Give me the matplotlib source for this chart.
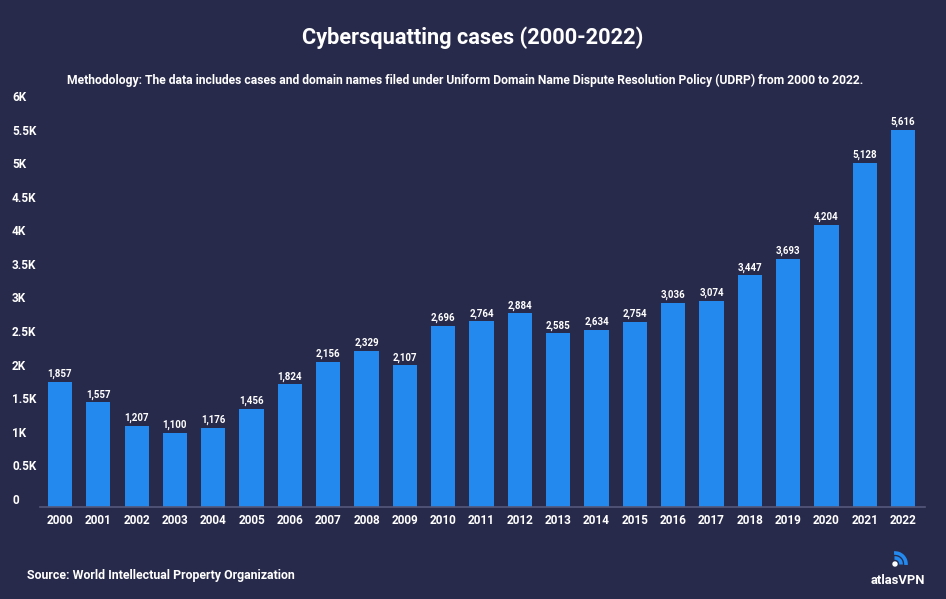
import matplotlib
matplotlib.use("Agg")

import numpy as np
import matplotlib.pyplot as plt
import matplotlib.transforms as mtransforms
from matplotlib.patches import Arc, Circle

years = [str(y) for y in range(2000, 2023)]
cases = [1857, 1557, 1207, 1100, 1176, 1456, 1824, 2156, 2329, 2107, 2696, 2764,
         2884, 2585, 2634, 2754, 3036, 3074, 3447, 3693, 4204, 5128, 5616]
ytick_vals = [0, 500, 1000, 1500, 2000, 2500, 3000, 3500, 4000, 4500, 5000, 5500, 6000]
ytick_labels = ["0", "0.5K", "1K", "1.5K", "2K", "2.5K", "3K", "3.5K", "4K", "4.5K", "5K", "5.5K", "6K"]

BG = "#282a4b"
BAR = "#2389ee"
W, H = 946, 599

plt.rcParams["font.family"] = ["Roboto", "DejaVu Sans"]

fig = plt.figure(figsize=(W / 100, H / 100), dpi=100, facecolor=BG)
ax = fig.add_axes([40 / W, 92 / H, 885 / W, 403 / H], facecolor=BG)

x = np.arange(len(years))
ax.bar(x, cases, width=0.63, color=BAR, zorder=2)
ax.set_xlim(-0.52, 22.57)
ax.set_ylim(0, 6000)

for xi, v in zip(x, cases):
    ax.annotate(f"{v:,}", (xi, v), xytext=(0, 2), textcoords="offset points",
                ha="center", va="bottom", color="white", fontsize=7, fontweight="bold")

for s in ["top", "right", "left"]:
    ax.spines[s].set_visible(False)
ax.spines["bottom"].set_color("#55587a")
ax.spines["bottom"].set_linewidth(1.2)

ax.set_xticks(x)
ax.set_xticklabels(years, color="white", fontsize=8.5, fontweight="bold")
ax.tick_params(axis="x", length=0, pad=5)
ax.set_yticks([])

trans = mtransforms.blended_transform_factory(fig.transFigure, ax.transData)
for v, lab in zip(ytick_vals, ytick_labels):
    ax.text(12 / W, v, lab, transform=trans, ha="left", va="bottom",
            color="white", fontsize=8.5, fontweight="bold", clip_on=False)

fig.text(0.5, 1 - 38 / H, "Cybersquatting cases (2000-2022)", ha="center", va="center",
         color="white", fontsize=15.7, fontweight="bold")
fig.text(465 / W, 1 - 80 / H,
         "Methodology: The data includes cases and domain names filed under Uniform Domain Name "
         "Dispute Resolution Policy (UDRP) from 2000 to 2022.",
         ha="center", va="center", color="white", fontsize=8.75, fontweight="bold")
fig.text(27 / W, 1 - 576 / H, "Source: World Intellectual Property Organization",
         ha="left", va="center", color="white", fontsize=8.9, fontweight="bold")

# logo
fig.text(898 / W, 1 - 580 / H, "atlasVPN", ha="center", va="center",
         color="white", fontsize=9.4, fontweight="bold")
lax = fig.add_axes([889 / W, 1 - 568 / H, 20 / W, 18 / H])
lax.set_xlim(0, 20)
lax.set_ylim(0, 18)
lax.axis("off")
lax.add_patch(Circle((6, 4), 2.0, color="white"))
lax.add_patch(Arc((6, 4), 12, 12, theta1=-5, theta2=95, color=BAR, lw=2.6))
lax.add_patch(Arc((6, 4), 22, 22, theta1=-5, theta2=95, color=BAR, lw=2.6))

fig.savefig("out.png", dpi=100, facecolor=BG)
